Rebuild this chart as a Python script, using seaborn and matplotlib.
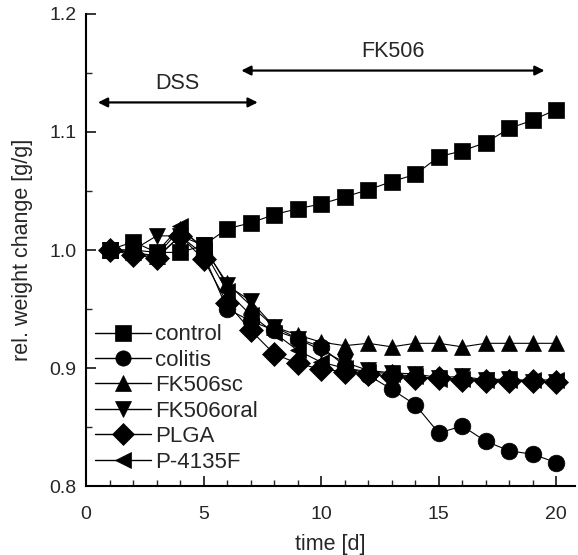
import pandas as pd
import matplotlib.pyplot as plt
import seaborn as sns
from matplotlib.ticker import MultipleLocator

# valeurs (jours 1 a 20)
days = list(range(1, 21))
control = [1.000, 1.007, 0.998, 0.998, 1.004, 1.018, 1.023, 1.030, 1.035, 1.039,
           1.045, 1.051, 1.058, 1.064, 1.079, 1.084, 1.091, 1.103, 1.110, 1.119]
colitis = [1.000, 0.998, 0.994, 1.012, 0.996, 0.950, 0.940, 0.932, 0.925, 0.918,
           0.902, 0.894, 0.882, 0.869, 0.845, 0.851, 0.838, 0.830, 0.827, 0.820]
fk506sc = [1.000, 0.998, 0.995, 1.018, 1.002, 0.972, 0.953, 0.935, 0.928, 0.922,
           0.919, 0.921, 0.918, 0.921, 0.921, 0.918, 0.921, 0.921, 0.921, 0.921]
fk506oral = [1.000, 1.000, 1.012, 1.012, 1.004, 0.970, 0.957, 0.935, 0.925, 0.915,
             0.905, 0.898, 0.896, 0.895, 0.892, 0.893, 0.890, 0.891, 0.888, 0.888]
plga = [1.000, 0.996, 0.993, 1.012, 0.992, 0.955, 0.932, 0.912, 0.904, 0.899,
        0.897, 0.895, 0.893, 0.892, 0.892, 0.890, 0.889, 0.889, 0.889, 0.888]
p4135f = [1.000, 1.000, 0.998, 1.020, 1.000, 0.965, 0.945, 0.930, 0.915, 0.905,
          0.900, 0.897, 0.895, 0.893, 0.891, 0.891, 0.890, 0.890, 0.890, 0.890]

groups = ['control', 'colitis', 'FK506sc', 'FK506oral', 'PLGA', 'P-4135F']
series = [control, colitis, fk506sc, fk506oral, plga, p4135f]
group_markers = ['s', 'o', '^', 'v', 'D', '<']

# periodes de traitement (label, debut, fin, niveau)
phase_labels = ['DSS', 'FK506']
phase_start = [0.5, 6.6]
phase_end = [7.3, 19.5]
phase_level = [1.125, 1.152]

rows = []
for g, vals in zip(groups, series):
    for d, v in zip(days, vals):
        rows.append({'time': d, 'value': v, 'group': g})
data = pd.DataFrame(rows)

sns.set_style('ticks')
plt.rcParams['font.family'] = ['Liberation Sans', 'DejaVu Sans']

fig = plt.figure(figsize=(5.78, 5.55), dpi=100)
ax = fig.add_axes([0.149, 0.124, 0.846, 0.851])

sns.lineplot(data=data, x='time', y='value', hue='group', style='group',
             hue_order=groups, style_order=groups,
             palette=['black'] * len(groups),
             markers=dict(zip(groups, group_markers)), dashes=False,
             markersize=12, markeredgecolor='black', markeredgewidth=0.5,
             linewidth=0.8, ax=ax)

for lab, x0, x1, lvl in zip(phase_labels, phase_start, phase_end, phase_level):
    ax.annotate('', xy=(x0, lvl), xytext=(x1, lvl),
                arrowprops=dict(arrowstyle='<|-|>', color='black', lw=1.6,
                                mutation_scale=14, shrinkA=0, shrinkB=0))
    ax.text((x0 + x1) / 2, lvl + 0.007, lab, ha='center', va='bottom', fontsize=15.5)

ax.set_xlim(0, 20.8)
ax.set_ylim(0.8, 1.2)
ax.xaxis.set_major_locator(MultipleLocator(5))
ax.xaxis.set_minor_locator(MultipleLocator(1))
ax.yaxis.set_major_locator(MultipleLocator(0.1))
ax.yaxis.set_minor_locator(MultipleLocator(0.05))
ax.set_yticklabels(['%.1f' % t for t in ax.get_yticks()])
ax.tick_params(which='major', direction='in', length=7, width=1.3, labelsize=14)
ax.tick_params(which='minor', direction='in', length=4, width=1.0)
ax.tick_params(axis='x', which='major', pad=14)
ax.tick_params(axis='y', which='major', pad=7)
for s in ['left', 'bottom']:
    ax.spines[s].set_linewidth(1.5)
    ax.spines[s].set_color('black')
sns.despine(ax=ax)

ax.set_xlabel('time [d]', fontsize=15.5, labelpad=8)
ax.set_ylabel('rel. weight change [g/g]', fontsize=15.5, labelpad=12)

handles, labels = ax.get_legend_handles_labels()
for h in handles:
    h.set_markersize(11)
    h.set_linewidth(1.0)
ax.legend(handles, labels, loc='lower left', bbox_to_anchor=(0.0, 0.01),
          frameon=False, fontsize=16, handlelength=2.5, handletextpad=0.2,
          labelspacing=0.2, borderpad=0.1, borderaxespad=0.3)

fig.savefig('out.png', dpi=100)
